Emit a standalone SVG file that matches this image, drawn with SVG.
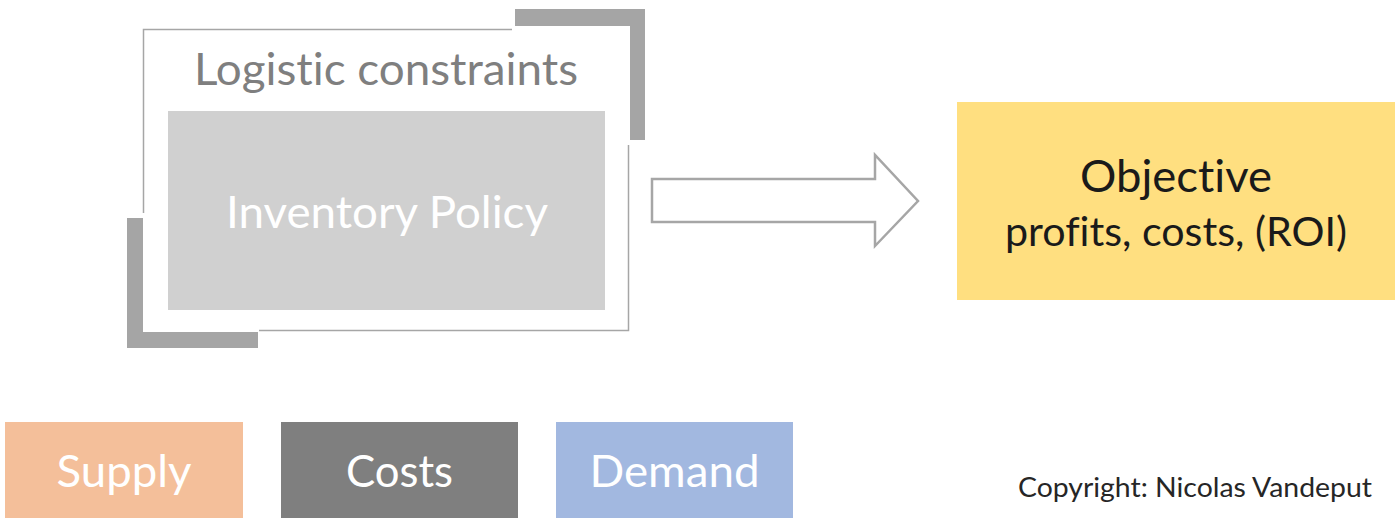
<svg xmlns="http://www.w3.org/2000/svg" width="1400" height="522" viewBox="0 0 1400 522">
  <style>
    text { font-family: Lato, "Open Sans", "Liberation Sans", sans-serif; text-anchor: middle; font-variant-ligatures: none; font-feature-settings: "liga" 0, "clig" 0, "dlig" 0, "calt" 0; }
    .frame { fill: none; stroke: #a6a6a6; stroke-width: 1.5; }
    .bar { fill: #a5a5a5; }
    .big { font-size: 44px; }
    .white { fill: #ffffff; }
  </style>
  <rect width="1400" height="522" fill="#ffffff"/>

  <g id="logistic-constraints">
    <path class="frame" d="M143.5,213 V29.5 H512 M628.5,145 V330.5 H259"/>
    <rect class="bar" x="515" y="9" width="130" height="17"/>
    <rect class="bar" x="630" y="9" width="15" height="131"/>
    <rect class="bar" x="127" y="218" width="16" height="130"/>
    <rect class="bar" x="127" y="332" width="131" height="16"/>
    <text class="big" x="386" y="85" fill="#7f7f7f" textLength="384" lengthAdjust="spacingAndGlyphs">Logistic constraints</text>
  </g>

  <g id="inventory-policy">
    <rect x="168" y="111" width="437" height="199" fill="#d0d0d0"/>
    <text class="big white" x="387" y="228" textLength="322" lengthAdjust="spacingAndGlyphs">Inventory Policy</text>
  </g>

  <g id="connectors">
    <path d="M652,179 H875 V155 L918,201 L875,246 V222 H652 Z" fill="#ffffff" stroke="#a6a6a6" stroke-width="2.5" stroke-linejoin="miter"/>
  </g>

  <g id="objective">
    <rect x="957" y="102" width="438" height="198" fill="#ffdf80"/>
    <text x="1176" y="192" font-size="45" fill="#1a1a1a" textLength="192" lengthAdjust="spacingAndGlyphs">Objective</text>
    <text x="1176" y="246" font-size="40" fill="#1a1a1a" textLength="342" lengthAdjust="spacingAndGlyphs">profits, costs, (ROI)</text>
  </g>

  <g id="supply">
    <rect x="5" y="422" width="238" height="96" fill="#f4bf9a"/>
    <text class="big white" x="124" y="487" textLength="135" lengthAdjust="spacingAndGlyphs">Supply</text>
  </g>

  <g id="costs">
    <rect x="281" y="422" width="237" height="96" fill="#7f7f7f"/>
    <text class="big white" x="399.5" y="487" textLength="107" lengthAdjust="spacingAndGlyphs">Costs</text>
  </g>

  <g id="demand">
    <rect x="556" y="422" width="237" height="96" fill="#a2b8e0"/>
    <text class="big white" x="674.5" y="487" textLength="170" lengthAdjust="spacingAndGlyphs">Demand</text>
  </g>

  <g id="copyright">
    <text x="1195" y="497" font-size="27" fill="#262626" textLength="354" lengthAdjust="spacingAndGlyphs">Copyright: Nicolas Vandeput</text>
  </g>
</svg>
